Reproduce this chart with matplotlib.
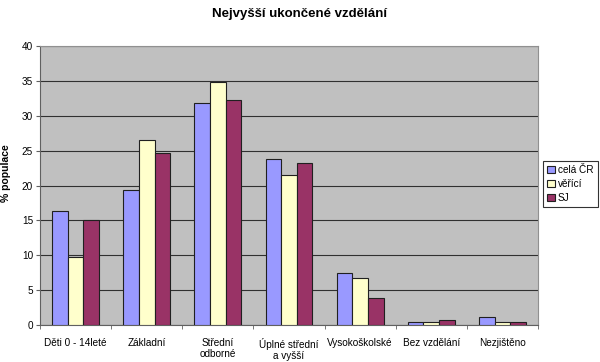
import matplotlib.pyplot as plt
import numpy as np

plt.rcParams['font.family'] = ['Liberation Sans', 'DejaVu Sans']

categories = ['Děti 0 - 14leté', 'Základní', 'Střední\nodborné', 'Úplné střední\na vyšší',
              'Vysokoškolské', 'Bez vzdělání', 'Nezjištěno']
cela_cr = [16.3, 19.3, 31.8, 23.8, 7.4, 0.4, 1.1]
verici = [9.7, 26.5, 34.9, 21.5, 6.7, 0.5, 0.4]
sj = [15.0, 24.6, 32.3, 23.2, 3.8, 0.7, 0.4]
series = ['celá ČR', 'věřící', 'SJ']
colors = ['#9999FF', '#FFFFCC', '#993366']

fig = plt.figure(figsize=(6, 3.62), dpi=100)
ax = fig.add_axes([40 / 600, 1 - 325 / 362, 498 / 600, 279 / 362])
ax.set_facecolor('#C0C0C0')

x = np.arange(len(categories))
w = 0.22
for i, (vals, lab, c) in enumerate(zip([cela_cr, verici, sj], series, colors)):
    ax.bar(x + (i - 1) * w, vals, w, color=c, edgecolor='#202020', linewidth=0.8,
           label=lab, zorder=3)

ax.set_xlim(-0.5, len(categories) - 0.5)
ax.set_ylim(0, 40)
ax.set_yticks(range(0, 41, 5))
ax.yaxis.grid(True, color='#303030', linewidth=0.8, zorder=0)
ax.set_axisbelow(True)

ax.set_xticks(x)
ax.set_xticklabels(categories, fontsize=7.2)
ax.set_xticks(np.arange(-0.5, len(categories), 1), minor=True)
ax.tick_params(axis='x', which='major', length=0, pad=9)
ax.tick_params(axis='x', which='minor', length=3, color='#606060')
ax.tick_params(axis='y', labelsize=7.2, length=3, color='#606060', pad=2)

for s in ['top', 'right']:
    ax.spines[s].set_color('#909090')
    ax.spines[s].set_linewidth(0.8)
for s in ['left', 'bottom']:
    ax.spines[s].set_color('#606060')
    ax.spines[s].set_linewidth(0.8)

ax.set_ylabel('% populace', fontsize=7.5, fontweight='bold')
ax.yaxis.set_label_coords(-0.058, 0.545)
fig.text(0.5, 1 - 14 / 362, 'Nejvyšší ukončené vzdělání', ha='center', va='center',
         fontsize=9.5, fontweight='bold')

leg = fig.legend(loc='upper left', bbox_to_anchor=(543 / 600, 1 - 161 / 362), fontsize=7.2,
                 frameon=True, fancybox=False, edgecolor='black', handlelength=0.8,
                 handleheight=0.8, handletextpad=0.3, borderpad=0.4, labelspacing=0.4,
                 borderaxespad=0)
leg.get_frame().set_linewidth(0.8)

fig.savefig('out.png', dpi=100)
